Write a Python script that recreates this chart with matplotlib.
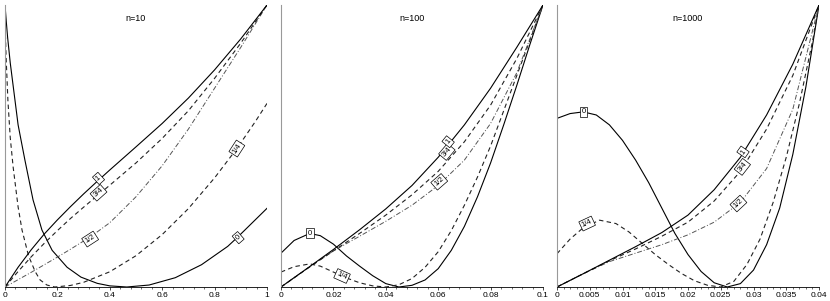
import matplotlib
matplotlib.use("Agg")
import matplotlib.pyplot as plt
from matplotlib.ticker import MultipleLocator, AutoMinorLocator

# ---- data (y is normalised: 0 = axis, 1 = top) ----
titles = ["n=10", "n=100", "n=1000"]
xmax = [1.0, 0.1, 0.04]
major_step = [0.2, 0.02, 0.005]
tick_fmt = [["0", "0.2", "0.4", "0.6", "0.8", "1"],
            ["0", "0.02", "0.04", "0.06", "0.08", "0.1"],
            ["0", "0.005", "0.01", "0.015", "0.02", "0.025", "0.03", "0.035", "0.04"]]

# panel n=10
p1_x0 = [0, 0.005, 0.01, 0.02, 0.038, 0.05, 0.076, 0.107, 0.141, 0.18, 0.237, 0.29, 0.352, 0.40,
         0.465, 0.55, 0.65, 0.75, 0.85, 0.887, 1.0]
p1_y0 = [1.0, 0.94, 0.885, 0.795, 0.663, 0.575, 0.45, 0.309, 0.202, 0.13, 0.070, 0.035, 0.013, 0.004,
         0.0, 0.007, 0.033, 0.079, 0.144, 0.176, 0.279]
p1_xq = [0, 0.004, 0.011, 0.02, 0.031, 0.05, 0.065, 0.09, 0.115, 0.134, 0.16, 0.19, 0.25, 0.3,
         0.4, 0.5, 0.6, 0.7, 0.8, 0.885, 0.955, 1.0]
p1_yq = [0.95, 0.82, 0.663, 0.53, 0.426, 0.284, 0.202, 0.11, 0.055, 0.025, 0.007, 0.0, 0.0055, 0.0166,
         0.054, 0.111, 0.186, 0.278, 0.387, 0.491, 0.586, 0.651]
p1_xs = [0, 0.05, 0.1, 0.15, 0.2, 0.25, 0.3, 0.35, 0.4, 0.5, 0.6, 0.7, 0.8, 0.9, 1.0]
p1_yh = [0, 0.026, 0.052, 0.079, 0.106, 0.134, 0.163, 0.194, 0.228, 0.32, 0.43, 0.56, 0.705, 0.85, 1.0]
p1_y3q = [0, 0.055, 0.107, 0.155, 0.2, 0.243, 0.283, 0.322, 0.361, 0.44, 0.527, 0.625, 0.74, 0.865, 1.0]
p1_y1 = [0, 0.07, 0.132, 0.188, 0.238, 0.285, 0.33, 0.373, 0.415, 0.497, 0.58, 0.67, 0.77, 0.88, 1.0]

# panel n=100
p2_x0 = [0, 0.005, 0.011, 0.015, 0.02, 0.025, 0.03, 0.035, 0.04, 0.045, 0.05, 0.055, 0.06,
         0.065, 0.07, 0.075, 0.08, 0.085, 0.09, 0.095, 0.1]
p2_y0 = [0.12, 0.165, 0.19, 0.182, 0.152, 0.11, 0.074, 0.04, 0.012, 0.0, 0.006, 0.025, 0.065,
         0.13, 0.215, 0.32, 0.44, 0.575, 0.715, 0.86, 1.0]
p2_xq = [0, 0.005, 0.011, 0.015, 0.02, 0.025, 0.03, 0.035, 0.04, 0.045, 0.05, 0.055, 0.06,
         0.065, 0.07, 0.075, 0.08, 0.085, 0.09, 0.095, 0.1]
p2_yq = [0.053, 0.072, 0.082, 0.074, 0.053, 0.032, 0.015, 0.004, 0.0, 0.008, 0.03, 0.07, 0.125,
         0.2, 0.29, 0.39, 0.5, 0.625, 0.75, 0.875, 1.0]
p2_xs = [0, 0.01, 0.02, 0.03, 0.04, 0.05, 0.06, 0.07, 0.08, 0.09, 0.1]
p2_yh = [0, 0.066, 0.128, 0.18, 0.233, 0.29, 0.36, 0.45, 0.58, 0.76, 1.0]
p2_y3q = [0, 0.065, 0.128, 0.19, 0.255, 0.327, 0.41, 0.515, 0.645, 0.81, 1.0]
p2_y1 = [0, 0.066, 0.133, 0.203, 0.277, 0.36, 0.46, 0.575, 0.705, 0.85, 1.0]

# panel n=1000
p3_x0 = [0, 0.002, 0.004, 0.006, 0.008, 0.010, 0.012, 0.014, 0.016, 0.018, 0.020, 0.022,
         0.024, 0.026, 0.028, 0.030, 0.032, 0.034, 0.036, 0.038, 0.04]
p3_y0 = [0.598, 0.615, 0.621, 0.61, 0.575, 0.52, 0.45, 0.37, 0.28, 0.19, 0.115, 0.055,
         0.015, 0.0, 0.012, 0.06, 0.15, 0.28, 0.47, 0.71, 1.0]
p3_xq = [0, 0.002, 0.004, 0.0065, 0.009, 0.011, 0.013, 0.015, 0.017, 0.019, 0.021, 0.023,
         0.025, 0.027, 0.029, 0.031, 0.033, 0.035, 0.037, 0.039, 0.04]
p3_yq = [0.118, 0.17, 0.21, 0.237, 0.225, 0.195, 0.155, 0.115, 0.08, 0.048, 0.022, 0.006,
         0.0, 0.02, 0.08, 0.17, 0.30, 0.46, 0.65, 0.87, 1.0]
p3_xs = [0, 0.004, 0.008, 0.012, 0.016, 0.02, 0.024, 0.028, 0.032, 0.036, 0.04]
p3_yh = [0, 0.047, 0.09, 0.12, 0.15, 0.185, 0.23, 0.30, 0.42, 0.63, 1.0]
p3_y3q = [0, 0.047, 0.093, 0.135, 0.18, 0.23, 0.305, 0.41, 0.56, 0.75, 1.0]
p3_y1 = [0, 0.047, 0.095, 0.143, 0.193, 0.255, 0.345, 0.46, 0.61, 0.79, 1.0]

panels = [
    [(p1_x0, p1_y0), (p1_xq, p1_yq), (p1_xs, p1_yh), (p1_xs, p1_y3q), (p1_xs, p1_y1)],
    [(p2_x0, p2_y0), (p2_xq, p2_yq), (p2_xs, p2_yh), (p2_xs, p2_y3q), (p2_xs, p2_y1)],
    [(p3_x0, p3_y0), (p3_xq, p3_yq), (p3_xs, p3_yh), (p3_xs, p3_y3q), (p3_xs, p3_y1)],
]
curve_names = ["0", "1/4", "1/2", "3/4", "1"]

# curve labels: (name, x, y, angle)
labels = [
    [("0", 0.89, 0.175, 41), ("1/4", 0.885, 0.491, 57), ("1/2", 0.325, 0.17, 33),
     ("3/4", 0.357, 0.334, 42), ("1", 0.357, 0.385, 42)],
    [("0", 0.0111, 0.19, 0), ("1/4", 0.0233, 0.039, -24), ("1/2", 0.0604, 0.373, 41),
     ("3/4", 0.0633, 0.479, 50), ("1", 0.0638, 0.515, 51)],
    [("0", 0.0041, 0.621, 0), ("1/4", 0.0046, 0.225, 25), ("1/2", 0.0277, 0.296, 43),
     ("3/4", 0.0283, 0.426, 52), ("1", 0.0284, 0.479, 55)],
]

styles = {
    "0": dict(color="black", ls="-", lw=0.8),
    "1/4": dict(color="#222222", ls=(0, (4, 3)), lw=0.8),
    "1/2": dict(color="#555555", ls=(0, (5, 2, 1, 2)), lw=0.7),
    "3/4": dict(color="#222222", ls=(0, (4, 3)), lw=0.8),
    "1": dict(color="black", ls="-", lw=0.8),
}

plt.rcParams['font.family'] = ['Liberation Sans', 'DejaVu Sans']

fig = plt.figure(figsize=(8.3, 3.01), dpi=100)
lefts = [5, 281, 557]
for i in range(3):
    ax = fig.add_axes([lefts[i] / 830, 14 / 301, 262 / 830, 282 / 301])
    for name, (xs, ys) in zip(curve_names, panels[i]):
        ax.plot(xs, ys, **styles[name])
    for name, lx, ly, ang in labels[i]:
        ax.text(lx, ly, name, fontsize=5.5, rotation=ang, ha="center", va="center",
                rotation_mode="anchor",
                bbox=dict(boxstyle="square,pad=0.2", fc="white", ec="black", lw=0.5))
    ax.set_xlim(0, xmax[i])
    ax.set_ylim(0, 1.0)
    ax.text(0.5, 0.952, titles[i], transform=ax.transAxes, ha="center", va="center", fontsize=6.5)
    ax.spines["top"].set_visible(False)
    ax.spines["right"].set_visible(False)
    ax.spines["left"].set_color("#999999")
    ax.spines["left"].set_linewidth(0.8)
    ax.spines["bottom"].set_linewidth(0.6)
    ax.set_yticks([])
    ax.xaxis.set_major_locator(MultipleLocator(major_step[i]))
    ax.xaxis.set_minor_locator(AutoMinorLocator(5))
    ax.set_xticks([k * major_step[i] for k in range(len(tick_fmt[i]))])
    ax.set_xticklabels(tick_fmt[i])
    ax.tick_params(axis="x", which="major", length=2.5, width=0.5, labelsize=6, pad=1)
    ax.tick_params(axis="x", which="minor", length=1.5, width=0.4)

fig.savefig("out.png", dpi=100)
